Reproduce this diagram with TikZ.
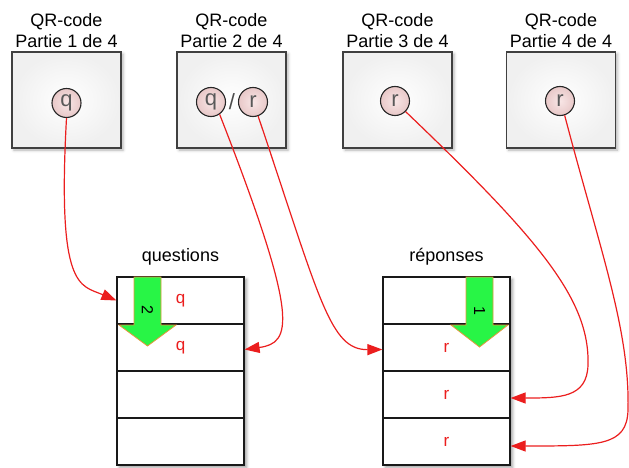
\documentclass[tikz,border=0pt]{standalone}
\usepackage{fontspec}
\setmainfont{Liberation Sans}
\usetikzlibrary{arrows.meta,shadows.blur,calc}
\definecolor{linkred}{RGB}{235,30,30}
\definecolor{arrowgreen}{RGB}{40,245,70}
\definecolor{arroworange}{RGB}{230,150,60}
\definecolor{tokenin}{RGB}{248,230,230}
\definecolor{tokenout}{RGB}{232,200,200}
\begin{document}
\begin{tikzpicture}[x=1pt,y=-1pt,
  title/.style={align=center,font=\fontsize{18}{21.5}\selectfont,inner sep=0pt},
  qrbox/.style={draw=black!75,line width=1.1pt,minimum width=109pt,minimum height=96pt,
    inner sep=0pt,inner color=white,outer color=black!6,
    blur shadow={shadow xshift=2pt,shadow yshift=-2pt,shadow blur radius=3pt,shadow opacity=30}},
  token/.style={circle,draw=black!85,line width=1.1pt,minimum size=29pt,inner sep=0pt,
    inner color=tokenin,outer color=tokenout,text=black!65,font=\fontsize{22}{24}\selectfont},
  cell/.style={draw=black!90,line width=1.2pt,minimum width=127pt,minimum height=47pt,
    inner sep=0pt,text=linkred,font=\fontsize{17}{20}\selectfont},
  tabshadow/.style={fill=white,blur shadow={shadow xshift=2.5pt,shadow yshift=-2.5pt,shadow blur radius=3pt,shadow opacity=40}},
  pointer/.style={fill=arrowgreen,draw=arroworange,line width=0.8pt,line join=miter},
  link/.style={draw=linkred,line width=1.2pt,-{Triangle[length=15pt,width=11pt]}},
  count/.style={rotate=-90,font=\fontsize{16}{18}\selectfont,inner sep=0pt}]
\useasboundingbox (0,0) rectangle (629,468);

% QR-code parts
\node[title] (t1) at (66.5,30.5) {QR-code\\Partie 1 de 4};
\node[title] (t2) at (231.5,30.5) {QR-code\\Partie 2 de 4};
\node[title] (t3) at (397.5,30.5) {QR-code\\Partie 3 de 4};
\node[title] (t4) at (561,30.5) {QR-code\\Partie 4 de 4};

\node[qrbox] (b1) at (66.5,100) {};
\node[qrbox] (b2) at (231.5,100) {};
\node[qrbox] (b3) at (397.5,100) {};
\node[qrbox] (b4) at (561,100) {};

\node[token] (c1) at (66.5,103) {q};
\node[token] (cq) at (211,102) {q};
\node[token] (cr) at (253,102) {r};
\node[text=black!70,font=\fontsize{22}{24}\selectfont,inner sep=0pt] (sl) at (232,102) {/};
\node[token] (c3) at (395,101) {r};
\node[token] (c4) at (560,101) {r};

% tables
\fill[tabshadow] (117,277) rectangle (244,465);
\fill[tabshadow] (383,277) rectangle (510,465);

\node[title] (hq) at (180.5,257) {questions};
\node[title] (hr) at (446.5,257) {réponses};

\node[cell] (q1) at (180.5,300.5) {q};
\node[cell] (q2) at (180.5,347.5) {q};
\node[cell] (q3) at (180.5,394.5) {};
\node[cell] (q4) at (180.5,441.5) {};

\node[cell] (r1) at (446.5,300.5) {};
\node[cell] (r2) at (446.5,347.5) {r};
\node[cell] (r3) at (446.5,394.5) {r};
\node[cell] (r4) at (446.5,441.5) {r};

% read pointers
\filldraw[pointer] (134,277) -- (161,277) -- (161,325) -- (176,325) -- (147.5,346)
  -- (119,325) -- (134,325) -- cycle;
\node[count] (n2) at (147.5,310) {2};
\filldraw[pointer] (466,277) -- (493,277) -- (493,325) -- (508,325) -- (479.5,347)
  -- (451,325) -- (466,325) -- cycle;
\node[count] (n1) at (479.5,311) {1};

% links from the parts to the table rows
\draw[link] (c1.south) .. controls (57,290) and (80,285) .. (q1.west);
\draw[link] (cq.-55) .. controls (300,320) and (292,343) .. ($(q2.east)+(0,2)$);
\draw[link] (cr.-70) .. controls (320,300) and (330,350) .. ($(r2.west)+(0,2)$);
\draw[link] (c3.-45) .. controls (540,240) and (590,300) .. (588,365)
  .. controls (587,398) and (560,398) .. ($(r3.east)+(0,3.5)$);
\draw[link] (c4.-72) .. controls (600,250) and (630,330) .. (628,410)
  .. controls (627,446) and (600,446) .. ($(r4.east)+(0,4.5)$);
\end{tikzpicture}
\end{document}
